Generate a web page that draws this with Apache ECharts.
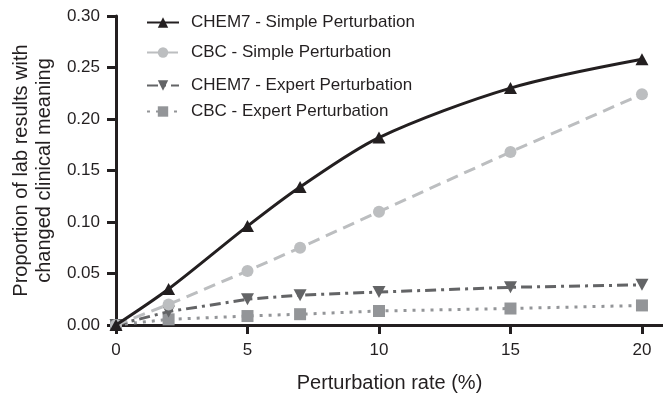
<!DOCTYPE html>
<html>
<head>
<meta charset="utf-8">
<script src="https://cdn.jsdelivr.net/npm/echarts@6/dist/echarts.min.js"></script>
<style>
html,body{margin:0;padding:0;background:#fff;}
#chart{width:663px;height:395px;}
</style>
</head>
<body>
<div id="chart"></div>
<script>
const rates = [0, 2, 5, 7, 10, 15, 20];
const chem7Simple = [0, 0.035, 0.096, 0.134, 0.182, 0.230, 0.258];
const cbcSimple = [0, 0.020, 0.0525, 0.075, 0.110, 0.168, 0.224];
const chem7Expert = [0, 0.013, 0.025, 0.029, 0.032, 0.0366, 0.039];
const cbcExpert = [0, 0.0055, 0.0087, 0.0105, 0.0136, 0.016, 0.019];
const xTicks = [0, 5, 10, 15, 20];
const seriesNames = ['CHEM7 - Simple Perturbation', 'CBC - Simple Perturbation', 'CHEM7 - Expert Perturbation', 'CBC - Expert Perturbation'];

const pairs = arr => rates.map((r, i) => [r, arr[i]]);
const FONT = '"Liberation Sans", Arial, Helvetica, sans-serif';
const AX = '#231f20';

const chart = echarts.init(document.getElementById('chart'), null, {renderer: 'canvas'});

function legendAt(name, top) {
  return {
    data: [name], left: 146, top: top, padding: 0,
    itemWidth: 32, itemHeight: 13,
    textStyle: {fontFamily: FONT, fontSize: 17, color: AX, padding: [0, 0, 0, 7]},
    selectedMode: false
  };
}

chart.setOption({
  animation: false,
  backgroundColor: '#fff',
  legend: [
    legendAt(seriesNames[0], 14),
    legendAt(seriesNames[1], 44),
    legendAt(seriesNames[2], 77),
    legendAt(seriesNames[3], 103)
  ],
  grid: {left: 116, right: 0, top: 16, bottom: 70, outerBoundsMode: 'none', containLabel: false},
  xAxis: {
    type: 'value', min: 0, max: 20.8, interval: 5,
    name: 'Perturbation rate (%)', nameLocation: 'middle', nameGap: 48,
    nameTextStyle: {fontFamily: FONT, fontSize: 20, color: AX},
    axisLine: {onZero: false, lineStyle: {color: AX, width: 3}},
    axisTick: {show: true, length: 9, lineStyle: {color: AX, width: 3}, customValues: xTicks},
    axisLabel: {fontFamily: FONT, fontSize: 17, color: AX, margin: 17, customValues: xTicks},
    splitLine: {show: false}
  },
  yAxis: {
    type: 'value', min: 0, max: 0.3, interval: 0.05,
    name: 'Proportion of lab results with\nchanged clinical meaning',
    nameLocation: 'middle', nameGap: 58,
    nameTextStyle: {fontFamily: FONT, fontSize: 20, color: AX, lineHeight: 23},
    axisLine: {show: true, lineStyle: {color: AX, width: 3}},
    axisTick: {show: true, length: 9, lineStyle: {color: AX, width: 3}},
    axisLabel: {fontFamily: FONT, fontSize: 17, color: AX, margin: 16, formatter: v => v.toFixed(2)},
    splitLine: {show: false}
  },
  series: [
    {
      name: seriesNames[0], type: 'line', data: pairs(chem7Simple), smooth: 0.3,
      symbol: 'triangle', symbolSize: [13, 12], z: 5,
      lineStyle: {color: AX, width: 3}, itemStyle: {color: AX}
    },
    {
      name: seriesNames[1], type: 'line', data: pairs(cbcSimple),
      symbol: 'circle', symbolSize: 12, z: 4,
      lineStyle: {color: '#bcbec0', width: 3, type: [12, 7]}, itemStyle: {color: '#bcbec0'}
    },
    {
      name: seriesNames[2], type: 'line', data: pairs(chem7Expert),
      symbol: 'triangle', symbolRotate: 180, symbolSize: [13, 12], z: 3,
      lineStyle: {color: '#636466', width: 3, type: [11, 5, 3, 5]}, itemStyle: {color: '#636466'}
    },
    {
      name: seriesNames[3], type: 'line', data: pairs(cbcExpert),
      symbol: 'rect', symbolSize: 12, z: 2,
      lineStyle: {color: '#939598', width: 3, type: [3, 6]}, itemStyle: {color: '#939598'}
    }
  ]
});
</script>
</body>
</html>
